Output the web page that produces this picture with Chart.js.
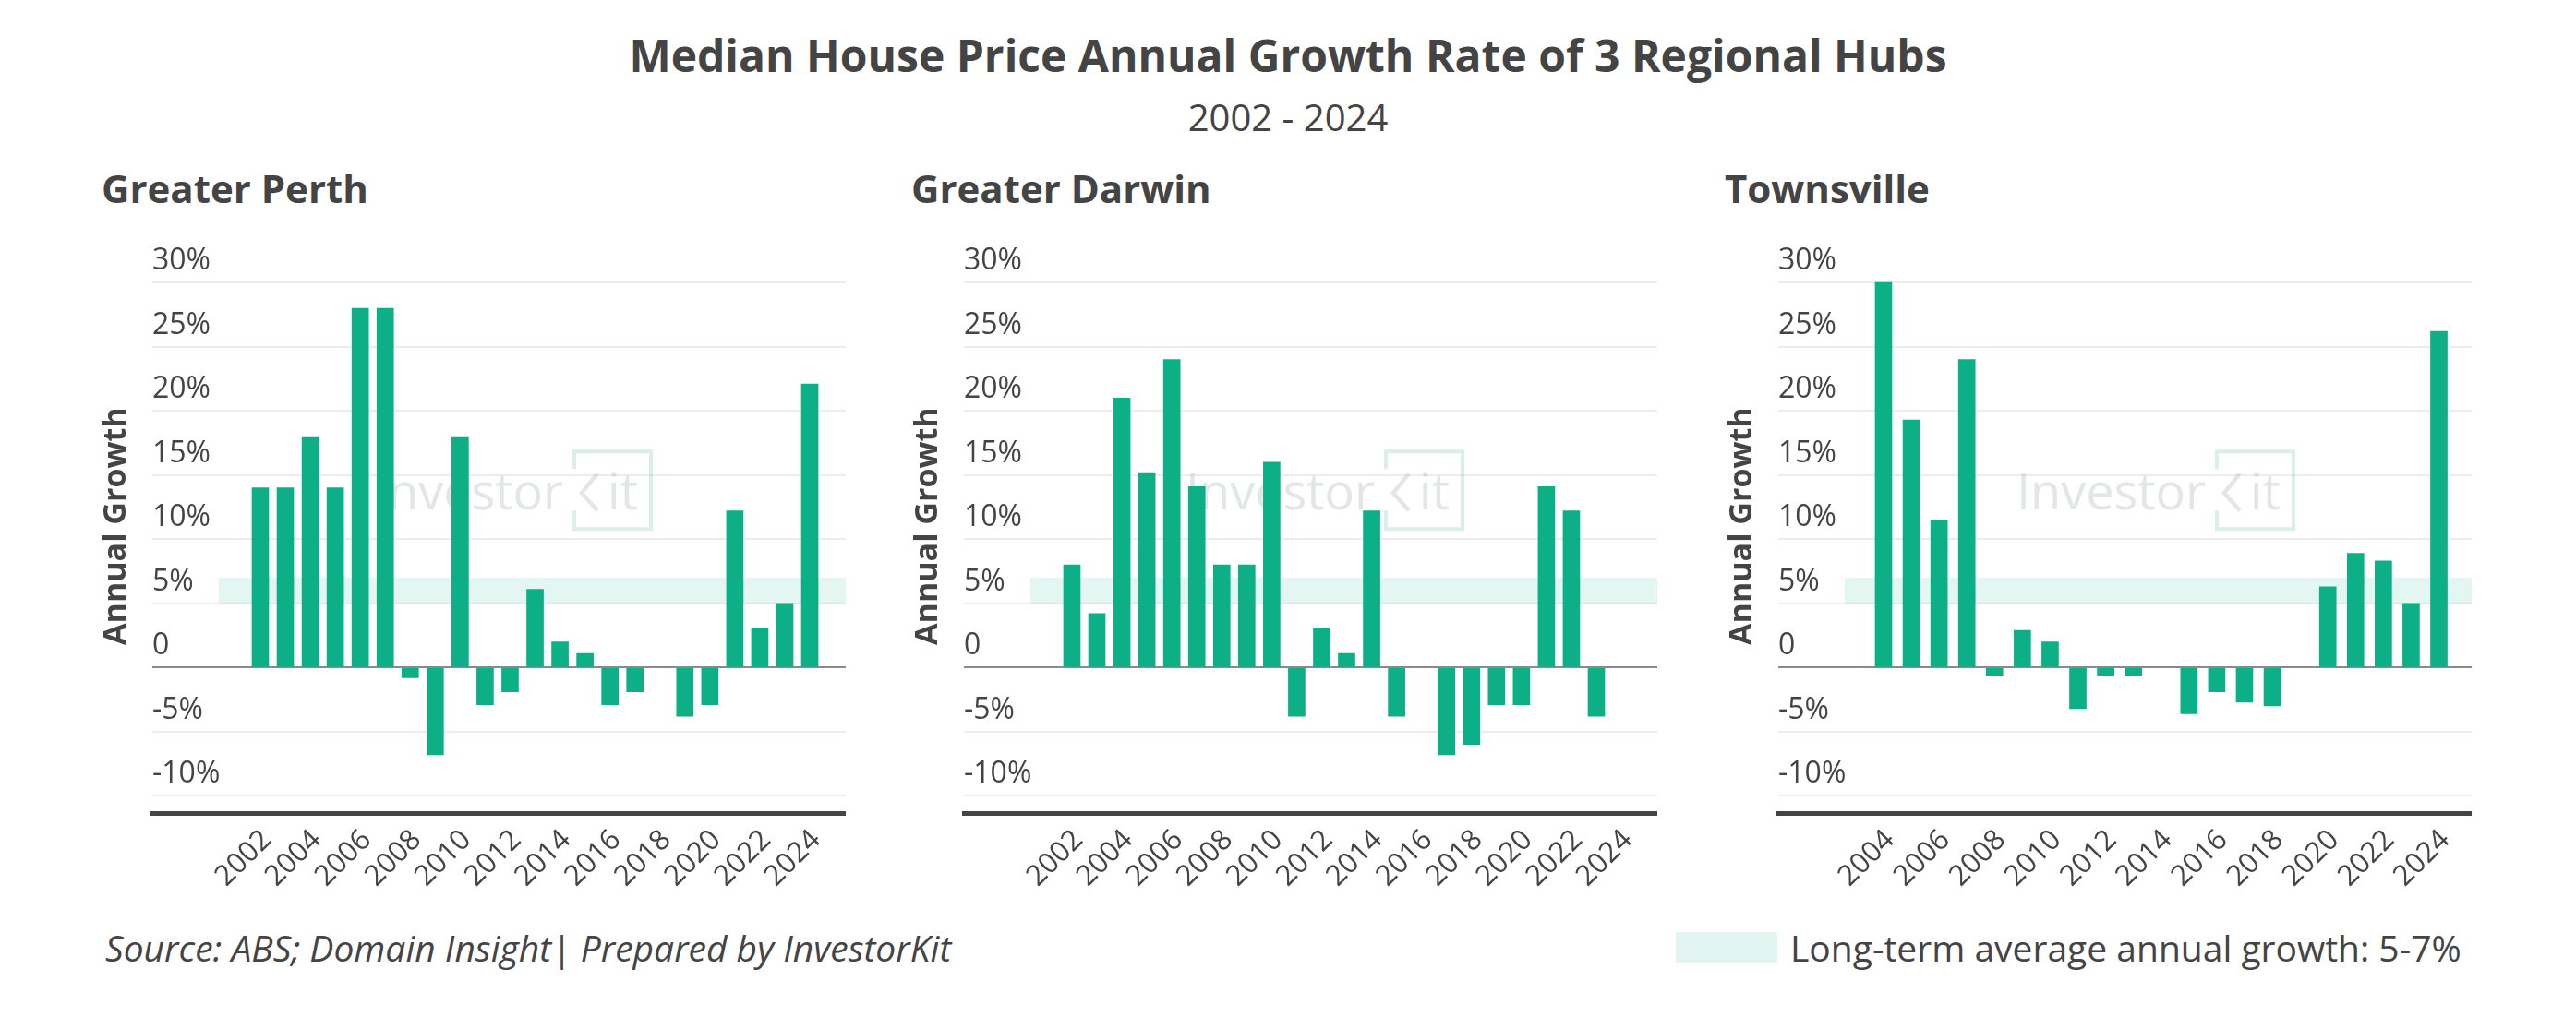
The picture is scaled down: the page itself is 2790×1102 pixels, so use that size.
<!DOCTYPE html>
<html>
<head>
<meta charset="utf-8">
<script src="https://cdn.jsdelivr.net/npm/chart.js@4.4.1/dist/chart.umd.min.js"></script>
<style>
  body { margin: 0; background: #fff; font-family: 'Open Sans', sans-serif; color: #444; }
  #page { position: relative; width: 2790px; height: 1102px; overflow: hidden; }
  .txt { position: absolute; line-height: 1; white-space: nowrap; }
  canvas { position: absolute; }
</style>
</head>
<body>
<div id="page">
  <div class="txt" style="left:0;width:2790px;text-align:center;top:36px;font-size:48px;font-weight:700;">Median House Price Annual Growth Rate of 3 Regional Hubs</div>
  <div class="txt" style="left:0;width:2790px;text-align:center;top:107px;font-size:40px;">2002 - 2024</div>

  <div class="txt" style="left:110px;top:183px;font-size:42px;font-weight:700;">Greater Perth</div>
  <div class="txt" style="left:987px;top:183px;font-size:42px;font-weight:700;">Greater Darwin</div>
  <div class="txt" style="left:1868px;top:183px;font-size:42px;font-weight:700;">Townsville</div>

  <canvas id="perth" width="812" height="741" style="left:104px;top:240px;"></canvas>
  <canvas id="darwin" width="812" height="741" style="left:983px;top:240px;"></canvas>
  <canvas id="townsville" width="812" height="741" style="left:1865px;top:240px;"></canvas>

  <div class="txt" style="left:114px;top:1007px;font-size:39px;font-style:italic;">Source: ABS; Domain Insight| Prepared by InvestorKit</div>
  <div style="position:absolute;left:1815px;top:1010px;width:110px;height:34px;background:#e3f5f0;"></div>
  <div class="txt" style="left:1939px;top:1007px;font-size:39px;">Long-term average annual growth: 5-7%</div>
</div>

<script>
// years and annual growth (%)
const perthYears = [2002, 2003, 2004, 2005, 2006, 2007, 2008, 2009, 2010, 2011, 2012, 2013,
  2014, 2015, 2016, 2017, 2018, 2019, 2020, 2021, 2022, 2023, 2024];
const perthGrowth = [14, 14, 18, 14, 28, 28, -0.8, -6.8, 18, -2.9, -1.9, 6.1,
  2.0, 1.1, -2.9, -1.9, null, -3.8, -2.9, 12.2, 3.1, 5.0, 22.1];

const darwinYears = [2002, 2003, 2004, 2005, 2006, 2007, 2008, 2009, 2010, 2011, 2012, 2013,
  2014, 2015, 2016, 2017, 2018, 2019, 2020, 2021, 2022, 2023, 2024];
const darwinGrowth = [8, 4.2, 21, 15.2, 24, 14.1, 8, 8, 16, -3.8, 3.1, 1.1,
  12.2, -3.8, null, -6.8, -6, -2.9, -2.9, 14.1, 12.2, -3.8, null];

const townsvilleYears = [2004, 2005, 2006, 2007, 2008, 2009, 2010, 2011, 2012, 2013, 2014,
  2015, 2016, 2017, 2018, 2019, 2020, 2021, 2022, 2023, 2024];
const townsvilleGrowth = [30, 19.3, 11.5, 24, -0.6, 2.9, 2.0, -3.2, -0.6, -0.6, null,
  -3.6, -1.9, -2.7, -3.0, null, 6.3, 8.9, 8.3, 5.0, 26.2];

const yTicks = [30, 25, 20, 15, 10, 5, 0, -5, -10];
const band = [5, 7]; // long-term average range

Chart.defaults.font.family = "'Open Sans', sans-serif";
Chart.defaults.color = '#444';

// light band + watermark behind the bars
const bandPlugin = {
  id: 'band',
  beforeDatasetsDraw(chart) {
    const { ctx, chartArea: a, scales: { y } } = chart;
    const top = y.getPixelForValue(band[1]);
    const bot = y.getPixelForValue(band[0]);
    ctx.save();
    ctx.fillStyle = 'rgba(12,175,134,0.115)';
    ctx.fillRect(a.left + 72, top, a.right - a.left - 72, bot - top);

    // InvestorKit watermark
    const wx = a.left + chart.options.wmOffset;
    const wy = a.top + 293; // baseline
    ctx.fillStyle = 'rgba(190,200,196,0.45)';
    ctx.font = "54px 'Open Sans'";
    ctx.textBaseline = 'alphabetic';
    ctx.fillText('Investor', wx, wy);
    ctx.fillText('it', wx + 253, wy);
    // box with a broken left side, and the "<" of the K
    const bx = wx + 217, bt = wy - 63, bw = 83, bh = 84;
    ctx.strokeStyle = 'rgba(150,210,190,0.35)';
    ctx.lineWidth = 4;
    ctx.beginPath();
    ctx.moveTo(bx, bt + 19);
    ctx.lineTo(bx, bt);
    ctx.lineTo(bx + bw, bt);
    ctx.lineTo(bx + bw, bt + bh);
    ctx.lineTo(bx, bt + bh);
    ctx.lineTo(bx, bt + 64);
    ctx.stroke();
    ctx.strokeStyle = 'rgba(190,200,196,0.45)';
    ctx.lineWidth = 4.5;
    ctx.beginPath();
    ctx.moveTo(bx + 25, bt + 24);
    ctx.lineTo(bx + 8, bt + 45);
    ctx.lineTo(bx + 25, bt + 64);
    ctx.stroke();
    ctx.restore();
  }
};

function makePanel(id, years, values, xMin, xMax, wmOffset) {
  return new Chart(document.getElementById(id), {
    type: 'bar',
    data: {
      labels: years,
      datasets: [{
        data: values,
        backgroundColor: '#0caf86',
        borderWidth: 0,
        barThickness: 18
      }]
    },
    options: {
      responsive: false,
      animation: false,
      devicePixelRatio: 1,
      wmOffset: wmOffset,
      layout: { padding: { top: 18, right: 0, left: 0, bottom: 0 } },
      plugins: { legend: { display: false }, tooltip: { enabled: false } },
      scales: {
        x: {
          type: 'linear',
          offset: false,
          min: xMin,
          max: xMax,
          grid: { display: false },
          border: { display: true, color: '#444', width: 5 },
          afterBuildTicks: (s) => {
            s.ticks = s.ticks.filter(t => t.value >= years[0] && t.value <= years[years.length - 1] && t.value % 2 === 0);
          },
          afterFit: (s) => { s.height = 100; },
          ticks: {
            stepSize: 2,
            includeBounds: false,
            autoSkip: false,
            minRotation: 45,
            maxRotation: 45,
            labelOffset: 7,
            color: '#444',
            font: { size: 31 },
            callback: (v) => String(v)
          }
        },
        y: {
          min: -11.34,
          max: 33.38,
          afterBuildTicks: (s) => {
            s.ticks = yTicks.map(v => ({ value: v }));
          },
          afterFit: (s) => { s.width = 61; },
          grid: {
            drawTicks: false,
            lineWidth: 2,
            color: (c) => c.tick && c.tick.value === 0 ? '#8a8a8a' : '#ececec'
          },
          border: { display: false },
          title: {
            display: true,
            text: 'Annual Growth',
            color: '#444',
            font: { size: 34, weight: 'bold' },
            padding: { top: 2, bottom: 2 }
          },
          ticks: {
            mirror: true,
            padding: 0,
            crossAlign: 'near',
            labelOffset: -23,
            color: '#444',
            font: { size: 32 },
            callback: (v) => v === 0 ? '0' : v + '%'
          }
        }
      }
    },
    plugins: [bandPlugin]
  });
}

makePanel('perth', perthYears, perthGrowth, 1997.675, 2025.44, 240);
makePanel('darwin', darwinYears, darwinGrowth, 1997.675, 2025.44, 240);
makePanel('townsville', townsvilleYears, townsvilleGrowth, 2000.21, 2025.18, 258);
</script>
</body>
</html>
